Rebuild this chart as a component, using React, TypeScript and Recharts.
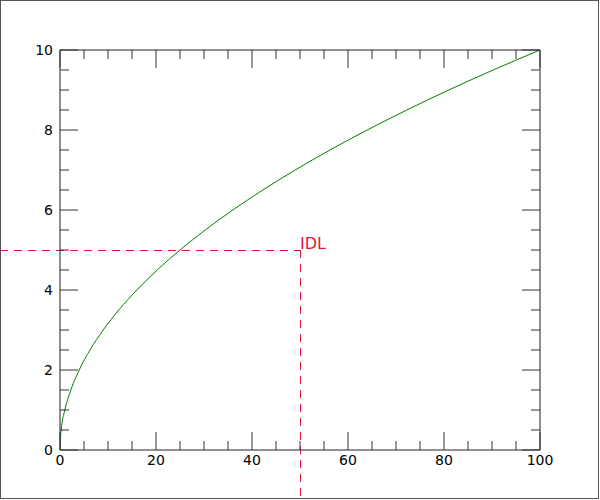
import React from "react";
import { ComposedChart, Line, XAxis, YAxis, ReferenceLine, Label } from "recharts";

// curve (x, y)
const xs = [0, 0.04, 0.25, 1, 2, 4, 6.25, 9, 12.25, 16, 20.25, 25, 30.25, 36, 42.25, 49, 56.25, 64, 72.25, 81, 90.25, 100];
const ys = [0, 0.2, 0.5, 1, 1.41, 2, 2.5, 3, 3.5, 4, 4.5, 5, 5.5, 6, 6.5, 7, 7.5, 8, 8.5, 9, 9.5, 10];

const xTicks = [0, 5, 10, 15, 20, 25, 30, 35, 40, 45, 50, 55, 60, 65, 70, 75, 80, 85, 90, 95, 100];
const yTicks = [0, 0.5, 1, 1.5, 2, 2.5, 3, 3.5, 4, 4.5, 5, 5.5, 6, 6.5, 7, 7.5, 8, 8.5, 9, 9.5, 10];

const idlX = 50;
const idlY = 5;

const data = xs.map((x, i) => ({ x, y: ys[i] }));

const FONT = "DejaVu Sans";
const TICK = "#333";

const isMajorX = (v: number) => v % 20 === 0;
const isMajorY = (v: number) => v % 2 === 0;

const BottomTick = (props: any) => {
  const { x, y, payload } = props;
  const v = payload.value;
  const major = isMajorX(v);
  return (
    <g>
      <line x1={x} y1={y} x2={x} y2={y - (major ? 18 : 9)} stroke={TICK} />
      {major && (
        <text x={x} y={y + 15} textAnchor="middle" fontFamily={FONT} fontSize={14} fill="#000">
          {v}
        </text>
      )}
    </g>
  );
};

const TopTick = (props: any) => {
  const { x, y, payload } = props;
  const major = isMajorX(payload.value);
  return <line x1={x} y1={y} x2={x} y2={y + (major ? 18 : 9)} stroke={TICK} />;
};

const LeftTick = (props: any) => {
  const { x, y, payload } = props;
  const v = payload.value;
  const major = isMajorY(v);
  return (
    <g>
      <line x1={x} y1={y} x2={x + (major ? 18 : 9)} y2={y} stroke={TICK} />
      {major && (
        <text x={x - 7} y={y + 5} textAnchor="end" fontFamily={FONT} fontSize={14} fill="#000">
          {v}
        </text>
      )}
    </g>
  );
};

const RightTick = (props: any) => {
  const { x, y, payload } = props;
  const major = isMajorY(payload.value);
  return <line x1={x} y1={y} x2={x - (major ? 18 : 9)} y2={y} stroke={TICK} />;
};

const IdlLabel = (props: any) => {
  const vb = props.viewBox || {};
  return (
    <text x={vb.x} y={vb.y - 1} fontFamily={FONT} fontSize={16} fill="crimson">
      IDL
    </text>
  );
};

export default function App() {
  return (
    <div style={{ position: "absolute", left: 0, top: 0, width: 600, height: 500, background: "#fff" }}>
      <ComposedChart width={600} height={500} data={data} margin={{ top: 49, right: 59, bottom: 49, left: 59 }}>
        <XAxis
          type="number"
          dataKey="x"
          domain={[0, 100]}
          ticks={xTicks}
          interval={0}
          allowDataOverflow
          height={1}
          tickSize={0}
          tickMargin={0}
          axisLine={{ stroke: "#222" }}
          tick={<BottomTick />}
        />
        <XAxis
          xAxisId="top"
          orientation="top"
          type="number"
          dataKey="x"
          domain={[0, 100]}
          ticks={xTicks}
          interval={0}
          allowDataOverflow
          height={1}
          tickSize={0}
          tickMargin={0}
          axisLine={{ stroke: "#222" }}
          tick={<TopTick />}
        />
        <YAxis
          type="number"
          domain={[0, 10]}
          ticks={yTicks}
          interval={0}
          allowDataOverflow
          width={1}
          tickSize={0}
          tickMargin={0}
          axisLine={{ stroke: "#222" }}
          tick={<LeftTick />}
        />
        <YAxis
          yAxisId="right"
          orientation="right"
          type="number"
          domain={[0, 10]}
          ticks={yTicks}
          interval={0}
          allowDataOverflow
          width={1}
          tickSize={0}
          tickMargin={0}
          axisLine={{ stroke: "#222" }}
          tick={<RightTick />}
        />
        <ReferenceLine
          segment={[{ x: -12.5, y: idlY }, { x: idlX, y: idlY }]}
          stroke="crimson"
          strokeDasharray="8 6"
          shapeRendering="crispEdges"
          ifOverflow="visible"
        />
        <ReferenceLine
          segment={[{ x: idlX, y: idlY }, { x: idlX, y: -1.25 }]}
          stroke="crimson"
          strokeDasharray="8 6"
          shapeRendering="crispEdges"
          ifOverflow="visible"
        >
          <Label content={<IdlLabel />} />
        </ReferenceLine>
        <Line
          type="monotone"
          dataKey="y"
          stroke="#008000"
          strokeWidth={1}
          dot={false}
          isAnimationActive={false}
        />
        <Line xAxisId="top" yAxisId="right" dataKey="y" stroke="none" dot={false} isAnimationActive={false} legendType="none" />
      </ComposedChart>
      <div
        style={{
          position: "absolute",
          left: 0,
          top: 0,
          width: 599,
          height: 499,
          boxSizing: "border-box",
          border: "1px solid #555",
          pointerEvents: "none",
        }}
      />
    </div>
  );
}
